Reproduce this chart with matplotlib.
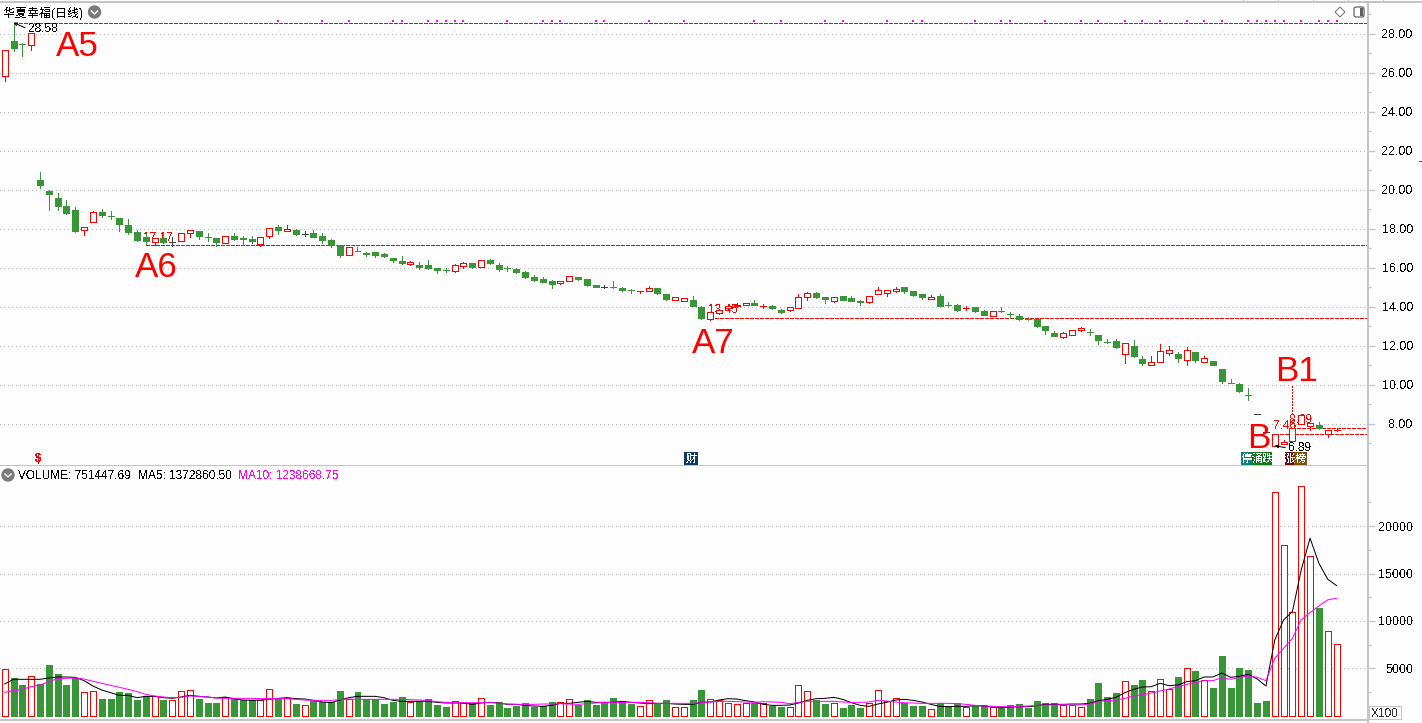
import matplotlib
matplotlib.use("Agg")
import matplotlib.pyplot as plt
from matplotlib.lines import Line2D
from matplotlib.patches import Rectangle, Circle, FancyBboxPatch, Polygon

plt.rcParams['font.family'] = ['Liberation Sans', 'Noto Sans CJK SC', 'DejaVu Sans']
plt.rcParams['text.antialiased'] = False

title = "华夏幸福(日线)"

opens = [25.85, 27.62, 27.50, 27.42, 20.50, 19.96, 19.59, 19.18, 18.97, 17.95,
         18.34, 18.86, 18.67, 18.55, 18.20, 17.85, 17.57, 17.32, 17.54, 17.35,
         17.37, 17.81, 17.88, 17.59, 17.52, 17.30, 17.62, 17.52, 17.49, 17.25,
         17.66, 18.10, 17.91, 17.95, 17.76, 17.79, 17.66, 17.44, 17.16, 16.65,
         16.86, 16.75, 16.82, 16.73, 16.51, 16.36, 16.21, 16.15, 16.15, 16.00,
         15.90, 15.86, 16.12, 16.26, 16.07, 16.41, 16.15, 16.00, 15.95, 15.79,
         15.54, 15.44, 15.33, 15.23, 15.35, 15.54, 15.44, 15.13, 15.03, 15.01,
         14.97, 14.86, 14.80, 14.84, 14.97, 14.67, 14.38, 14.33, 14.36, 14.00,
         13.38, 13.71, 13.95, 14.05, 14.08, 14.19, 14.04, 14.05, 13.85, 13.83,
         13.96, 14.53, 14.72, 14.50, 14.33, 14.56, 14.46, 14.29, 14.27, 14.65,
         14.70, 14.82, 15.03, 14.82, 14.67, 14.43, 14.56, 14.10, 14.10, 13.94,
         14.00, 13.79, 13.55, 13.78, 13.64, 13.54, 13.37, 13.38, 13.03, 12.67,
         12.48, 12.58, 12.84, 12.73, 12.56, 12.20, 12.26, 11.60, 12.00, 11.32,
         11.00, 11.16, 11.64, 11.59, 11.28, 11.69, 11.18, 11.23, 10.82, 10.10,
         10.05, 9.49, 8.51, 7.60, 6.89, 6.99, 7.11, 7.98, 7.88, 7.95,
         7.50, 7.67]
closes = [27.20, 27.30, 27.49, 28.03, 20.27, 19.81, 19.18, 18.84, 17.90, 18.09,
          18.86, 18.72, 18.66, 18.27, 17.85, 17.44, 17.37, 17.52, 17.35, 17.35,
          17.78, 17.95, 17.64, 17.58, 17.35, 17.62, 17.49, 17.51, 17.37, 17.57,
          18.04, 17.96, 17.98, 17.76, 17.76, 17.59, 17.42, 17.18, 16.67, 17.06,
          16.85, 16.74, 16.67, 16.62, 16.41, 16.24, 16.31, 16.05, 16.00, 15.90,
          15.89, 16.14, 16.24, 16.05, 16.39, 16.26, 15.95, 15.99, 15.79, 15.54,
          15.38, 15.28, 15.18, 15.33, 15.59, 15.44, 15.13, 15.03, 15.03, 15.00,
          14.87, 14.85, 14.82, 14.97, 14.72, 14.41, 14.50, 14.45, 14.05, 13.44,
          13.73, 13.85, 14.05, 14.10, 14.19, 14.12, 14.06, 13.96, 13.76, 13.99,
          14.53, 14.70, 14.51, 14.41, 14.50, 14.37, 14.31, 14.28, 14.55, 14.86,
          14.86, 14.92, 14.84, 14.62, 14.51, 14.51, 14.05, 14.09, 13.85, 13.96,
          13.79, 13.60, 13.78, 13.77, 13.63, 13.40, 13.36, 13.03, 12.82, 12.53,
          12.65, 12.80, 12.92, 12.72, 12.31, 12.19, 11.95, 12.14, 11.49, 11.14,
          11.16, 11.73, 11.78, 11.38, 11.78, 11.28, 11.38, 11.03, 10.21, 10.09,
          9.69, 9.48, 8.51, 7.60, 7.49, 7.06, 7.79, 8.46, 8.04, 7.78,
          7.68, 7.69]
highs = [27.20, 28.58, 27.55, 28.03, 20.92, 20.00, 19.85, 19.49, 19.15, 18.12,
         18.90, 19.00, 18.91, 18.55, 18.51, 17.95, 17.75, 17.52, 17.80, 17.57,
         17.78, 17.97, 17.88, 17.78, 17.52, 17.65, 17.81, 17.65, 17.62, 17.57,
         18.07, 18.20, 18.20, 18.00, 17.90, 17.96, 17.78, 17.49, 17.20, 17.10,
         17.06, 16.84, 16.82, 16.78, 16.51, 16.62, 16.36, 16.33, 16.41, 16.00,
         16.02, 16.20, 16.31, 16.26, 16.39, 16.48, 16.26, 16.10, 16.00, 15.82,
         15.64, 15.56, 15.38, 15.33, 15.59, 15.54, 15.44, 15.13, 15.13, 15.33,
         15.03, 14.92, 14.82, 15.08, 14.97, 14.67, 14.50, 14.45, 14.56, 14.05,
         13.73, 13.90, 14.10, 14.18, 14.19, 14.36, 14.14, 14.12, 13.92, 13.99,
         14.65, 14.77, 14.77, 14.50, 14.50, 14.56, 14.56, 14.37, 14.55, 15.00,
         14.86, 15.02, 15.03, 14.82, 14.67, 14.62, 14.66, 14.26, 14.15, 14.05,
         14.00, 13.85, 13.78, 13.99, 13.74, 13.64, 13.47, 13.38, 13.03, 12.77,
         12.70, 12.80, 12.97, 12.87, 12.56, 12.35, 12.35, 12.14, 12.31, 11.50,
         11.48, 12.10, 12.00, 11.69, 11.95, 11.69, 11.49, 11.23, 10.82, 10.31,
         10.10, 9.85, 8.51, 7.60, 7.49, 7.18, 7.79, 8.46, 8.04, 8.12,
         7.68, 7.78]
lows = [25.60, 27.15, 26.85, 27.17, 20.12, 18.97, 18.97, 18.77, 17.86, 17.70,
        18.34, 18.63, 18.53, 17.91, 17.73, 17.40, 17.18, 17.18, 17.27, 17.13,
        17.37, 17.57, 17.50, 17.40, 17.14, 17.27, 17.44, 17.20, 17.26, 17.14,
        17.54, 17.75, 17.91, 17.70, 17.62, 17.59, 17.27, 17.10, 16.58, 16.65,
        16.85, 16.63, 16.58, 16.58, 16.31, 16.19, 16.15, 15.97, 15.95, 15.74,
        15.79, 15.79, 16.00, 16.00, 16.07, 16.20, 15.87, 15.87, 15.74, 15.50,
        15.33, 15.28, 14.97, 15.18, 15.35, 15.38, 15.08, 15.03, 14.98, 14.97,
        14.82, 14.72, 14.74, 14.84, 14.67, 14.36, 14.38, 14.33, 14.05, 13.39,
        13.33, 13.64, 13.87, 14.00, 14.08, 14.08, 13.95, 13.90, 13.70, 13.77,
        13.96, 14.37, 14.46, 14.21, 14.28, 14.37, 14.31, 14.10, 14.20, 14.65,
        14.57, 14.77, 14.73, 14.57, 14.41, 14.43, 14.05, 14.05, 13.77, 13.85,
        13.74, 13.60, 13.55, 13.76, 13.44, 13.33, 13.33, 12.97, 12.62, 12.53,
        12.43, 12.58, 12.75, 12.55, 12.10, 12.15, 11.90, 11.14, 11.44, 11.04,
        11.00, 11.16, 11.55, 11.18, 11.03, 11.18, 11.18, 11.03, 10.10, 10.08,
        9.64, 9.23, 8.51, 7.60, 6.89, 6.99, 7.11, 7.98, 7.69, 7.75,
        7.35, 7.63]

volumes = [4893, 3978, 3238, 4154, 3344, 5350, 4400, 3238, 3942, 2464,
           2570, 1760, 1760, 2499, 2394, 1654, 2042, 2112, 1654, 1654,
           2570, 2675, 1760, 1338, 1338, 1936, 1760, 1619, 1619, 1654,
           2781, 1760, 1866, 1232, 1091, 1549, 1443, 1443, 2605, 1760,
           2499, 1725, 1725, 1232, 1443, 1971, 1408, 1514, 1760, 1126,
           915, 1514, 1302, 1302, 1830, 1126, 1443, 810, 1021, 1338,
           915, 1021, 1443, 1408, 1725, 1126, 1654, 1126, 1408, 1866,
           1514, 1232, 986, 1619, 1302, 1654, 880, 880, 1654, 2710,
           1725, 1619, 1302, 1197, 1302, 1302, 1302, 1021, 915, 880,
           3203, 2570, 1654, 1232, 1302, 810, 1126, 810, 1302, 2675,
           1514, 1830, 1338, 1021, 1021, 669, 1302, 986, 1302, 880,
           1021, 1126, 880, 880, 1126, 1232, 810, 1549, 1338, 1338,
           1091, 1091, 880, 1760, 3450, 1971, 2394, 3626, 3238, 3766,
           2570, 3837, 2816, 4083, 4998, 4717, 3731, 2922, 6301, 2922,
           5034, 4822, 1338, 1549, 23584, 17987, 10912, 24253, 16826, 11370,
           8906, 7533]
ma5 = [3344, 3837, 3837, 3837, 3837, 3978, 4083, 4083, 4048, 3696,
       3133, 2710, 2429, 2147, 2147, 1901, 2042, 2042, 1901, 1830,
       1971, 2147, 2042, 1971, 1866, 1971, 1795, 1654, 1619, 1654,
       1725, 1830, 1901, 1795, 1760, 1619, 1443, 1373, 1654, 1901,
       2042, 2042, 2042, 1901, 1619, 1514, 1514, 1514, 1514, 1408,
       1338, 1338, 1338, 1197, 1338, 1408, 1338, 1197, 1197, 1091,
       1021, 986, 1091, 1302, 1302, 1408, 1514, 1408, 1408, 1408,
       1514, 1408, 1338, 1267, 1302, 1302, 1232, 1197, 1197, 1408,
       1443, 1654, 1795, 1760, 1584, 1443, 1197, 1091, 1091, 1126,
       1338, 1619, 1795, 1830, 1936, 1725, 1373, 1091, 986, 1232,
       1408, 1654, 1725, 1619, 1443, 1197, 986, 950, 986, 986,
       1056, 1021, 915, 845, 915, 950, 950, 1056, 1197, 1197,
       1197, 1232, 1232, 1302, 1584, 1725, 1936, 2429, 2781, 3027,
       3062, 3414, 3168, 3238, 3590, 3696, 4083, 4083, 4506, 4048,
       4154, 4365, 3872, 3133, 7990, 10102, 10982, 15382, 18726, 16086,
       14397, 13728]
ma10 = [2464, 2640, 2781, 3062, 3238, 3590, 3907, 3942, 3978, 3872,
        3626, 3414, 3203, 2992, 2781, 2534, 2253, 2077, 1971, 1901,
        1936, 2077, 2042, 1971, 1866, 1830, 1830, 1830, 1830, 1795,
        1830, 1795, 1795, 1725, 1654, 1619, 1619, 1619, 1690, 1760,
        1725, 1725, 1725, 1725, 1725, 1725, 1690, 1654, 1619, 1478,
        1408, 1408, 1373, 1373, 1373, 1373, 1338, 1232, 1197, 1197,
        1197, 1232, 1232, 1267, 1232, 1197, 1267, 1338, 1408, 1408,
        1408, 1408, 1408, 1373, 1302, 1302, 1302, 1302, 1302, 1373,
        1443, 1514, 1514, 1478, 1443, 1408, 1478, 1443, 1408, 1267,
        1408, 1514, 1514, 1514, 1514, 1443, 1408, 1408, 1443, 1619,
        1549, 1443, 1373, 1338, 1302, 1302, 1302, 1302, 1267, 1197,
        1091, 1021, 986, 950, 950, 986, 1021, 1091, 1126, 1126,
        1162, 1126, 1126, 1232, 1478, 1584, 1654, 1830, 2077, 2218,
        2394, 2605, 2816, 3062, 3309, 3485, 3696, 3696, 4013, 3837,
        4048, 4189, 4048, 3696, 6054, 7110, 8166, 10102, 10877, 11581,
        12214, 12390]

flat_dark = [19, 34, 68, 142, 143]
flat_vol_up = [19, 34]
dot_days = [31, 36, 39, 44, 45, 48, 49, 50, 51, 52, 57, 61, 62, 63, 67, 68, 73, 77,
            85, 88, 93, 95, 100, 103, 104, 110, 113, 114, 118, 122, 124, 127, 129,
            131, 134, 136, 138, 141, 142, 143, 144, 145, 147, 149, 150, 151]

price_ticks = [8, 10, 12, 14, 16, 18, 20, 22, 24, 26, 28]
price_minor = [7, 9, 11, 13, 15, 17, 19, 21, 23, 25, 27, 29]
price_labels = ["8.00", "10.00", "12.00", "14.00", "16.00", "18.00", "20.00",
                "22.00", "24.00", "26.00", "28.00"]
vol_ticks = [5000, 10000, 15000, 20000]
vol_minor = [2500, 7500, 12500, 17500, 22500]
vol_labels = ["5000", "10000", "15000", "20000"]

RED = '#FF0000'
GREEN = '#389639'
DARK = '#404040'
GRAY = '#C4C4C4'
BG = '#FDFDFD'
PX = 0.72
DASH = (0, (3, 2))

fig = plt.figure(figsize=(14.22, 7.23), dpi=100, facecolor=BG)


def fx(x):
    return x / 1422


def fy(y):
    return 1 - y / 723


ax = fig.add_axes([0, fy(466), fx(1368), 458 / 723], facecolor=BG)
vax = fig.add_axes([0, fy(720), fx(1368), 254 / 723], facecolor=BG)

days = list(range(len(opens)))
candle_c = []
for i in days:
    if i in flat_dark:
        candle_c.append(DARK)
    elif closes[i] > opens[i]:
        candle_c.append(RED)
    else:
        candle_c.append(GREEN)
body_face = [BG if c == RED else c for c in candle_c]
body_bottom = [min(o, c) for o, c in zip(opens, closes)]
body_height = [abs(o - c) for o, c in zip(opens, closes)]

for a, ticks, minor, labels in ((ax, price_ticks, price_minor, price_labels),
                                (vax, vol_ticks, vol_minor, vol_labels)):
    a.set_xlim(-0.533, 154.57)
    a.set_xticks([])
    a.yaxis.tick_right()
    a.set_yticks(ticks)
    a.set_yticklabels(labels, fontsize=9, color='black', ha='right', va='center_baseline')
    a.set_yticks(minor, minor=True)
    a.tick_params(axis='y', which='major', length=5, width=PX * 1.3, color=GRAY, pad=27.4)
    a.tick_params(axis='y', which='minor', length=2.4, width=PX * 1.3, color=GRAY)
    a.grid(axis='y', which='major', color='#B8B8B8', linewidth=PX, linestyle=(0, (1, 3)),
           antialiased=False)
    a.set_axisbelow(True)
    for s in ('top', 'left', 'right'):
        a.spines[s].set_visible(False)
    a.spines['bottom'].set_color(GRAY)
    a.spines['bottom'].set_linewidth(PX * 2)

ax.set_ylim(5.846, 29.33)
vax.set_ylim(-454, 26340)

# key price levels
for level, start in ((28.58, 1), (17.17, 16), (13.45, 80), (7.78, 146.5), (7.47, 144)):
    ax.hlines(level, start, 154.57, color=RED, lw=PX, linestyle=DASH, antialiased=False,
              zorder=1.5)
ax.vlines(145.9, 8.5, 10.0, color=RED, lw=PX, linestyle=(0, (2, 2)), antialiased=False,
          zorder=1.5)
ax.scatter(dot_days, [28.66] * len(dot_days), marker='s', s=3.5, color='#FF00FF',
           linewidths=0, zorder=1.6)

for txt, x, y in (("17.17", 15.68, 17.40), ("13.45", 79.74, 13.71),
                  ("7.46", 143.8, 7.74), ("8.09", 145.7, 8.05)):
    ax.text(x, y, txt, color=RED, fontsize=8.6, va='baseline', zorder=1.8)

# candles
ax.vlines(days, lows, highs, colors=candle_c, lw=PX, antialiased=False, zorder=2)
ax.bar(days, body_height, bottom=body_bottom, width=0.68, color=body_face,
       edgecolor=candle_c, linewidth=PX, antialiased=False, zorder=3)

for txt, x, y in (("A5", 5.85, 26.87), ("A6", 14.77, 15.54), ("A7", 77.9, 11.64),
                  ("B1", 144.05, 10.2), ("B", 140.9, 6.77)):
    t = ax.text(x, y, txt, color=RED, fontsize=25.2, va='baseline', zorder=5)
    t.set_antialiased(True)

ax.annotate("28.58", xy=(1, 28.58), xytext=(10.4, -6.8), textcoords='offset points',
            fontsize=8.6, va='baseline', zorder=6,
            arrowprops=dict(arrowstyle='->', lw=PX, color='black', relpos=(0, 0.5),
                            shrinkA=0, shrinkB=0, mutation_scale=5))
ax.annotate("6.89", xy=(144, 6.89), xytext=(9.5, -4), textcoords='offset points',
            fontsize=8.6, va='baseline', zorder=6,
            arrowprops=dict(arrowstyle='-|>', lw=PX, color='black', relpos=(0, 0.5),
                            shrinkA=0, shrinkB=0, mutation_scale=5))
ax.text(3.8, 6.2, "$", color=RED, fontsize=8.6, fontweight='bold', ha='center', va='center')

# volume
vol_c = []
for i in days:
    if closes[i] > opens[i] or i in flat_vol_up:
        vol_c.append(RED)
    else:
        vol_c.append(GREEN)
vol_face = [BG if c == RED else c for c in vol_c]
vax.bar(days, volumes, width=0.68, color=vol_face, edgecolor=vol_c, linewidth=PX,
        antialiased=False, zorder=2)
vax.plot(days, ma5, color='black', lw=PX, zorder=3)
vax.plot(days, ma10, color='#FF00FF', lw=PX, zorder=4)

# window chrome
fig.add_artist(Line2D([0, 1], [fy(2)] * 2, color=GRAY, lw=PX * 2))
fig.add_artist(Line2D([fx(1368)] * 2, [fy(2), 0], color=GRAY, lw=PX * 2))
fig.add_artist(Line2D([0, fx(1368)], [fy(720)] * 2, color=GRAY, lw=PX * 2))
for tx in (1243, 1278, 1313, 1348, 1383):
    fig.add_artist(Line2D([fx(tx)] * 2, [fy(0), fy(2)], color=GRAY, lw=PX))
fig.add_artist(Line2D([fx(1419), 1], [fy(161)] * 2, color=RED, lw=PX))


def icon_circle(cx, cy):
    fig.add_artist(Circle((cx, 723 - cy), 6, transform=None, color='#7A7A7A'))
    fig.add_artist(Line2D([fx(cx - 3), fx(cx), fx(cx + 3)], [fy(cy - 1), fy(cy + 2), fy(cy - 1)],
                          color='white', lw=PX * 1.4))


icon_circle(94.5, 12)
icon_circle(8, 475)

fig.text(fx(3), fy(16.5), title, fontsize=8.64, color='black', va='baseline')
fig.text(fx(18), fy(479), "VOLUME: 751447.69", fontsize=8.6, color='black', va='baseline')
fig.text(fx(138), fy(479), "MA5: 1372860.50", fontsize=8.6, color='black', va='baseline')
fig.text(fx(238), fy(479), "MA10: 1238668.75", fontsize=8.6, color='#FF00FF', va='baseline')

# diamond and panel buttons
fig.add_artist(Polygon([(1340, 723 - 7), (1345, 723 - 12), (1340, 723 - 17), (1335, 723 - 12)],
                       transform=None, closed=True, facecolor='none', edgecolor='#707070',
                       linewidth=PX))
fig.add_artist(FancyBboxPatch((1354, 723 - 17), 10, 10, transform=None,
                              boxstyle='round,pad=0,rounding_size=2', facecolor=BG,
                              edgecolor='#606060', linewidth=PX * 1.2))
fig.add_artist(Rectangle((1360, 723 - 16), 3, 8, transform=None, facecolor='#606060',
                         edgecolor='none'))

# X100 box
fig.add_artist(Rectangle((1369, 723 - 719), 32, 13, transform=None, facecolor=BG,
                         edgecolor=GRAY, linewidth=PX))
fig.text(fx(1371), fy(717), "X100", fontsize=8.6, color='#333333', va='baseline')

# event badges
badges = [(684, 698, '#0B3A66', "财"), (1241, 1252, '#0E8080', "停"), (1252, 1262, '#0E7A18', "涌"),
          (1262, 1272, '#0E7A18', "跌"), (1285, 1294, '#6A1010', "涨"), (1294, 1307, '#80500E', "榜")]
for x0, x1, col, ch in badges:
    fig.add_artist(Rectangle((x0, 723 - 465), x1 - x0, 13, transform=None, facecolor=col,
                             edgecolor='none'))
    fig.text(fx((x0 + x1) / 2), fy(458.5), ch, fontsize=8, color='white', ha='center', va='center')

fig.savefig("out.png", dpi=100, facecolor=BG)
